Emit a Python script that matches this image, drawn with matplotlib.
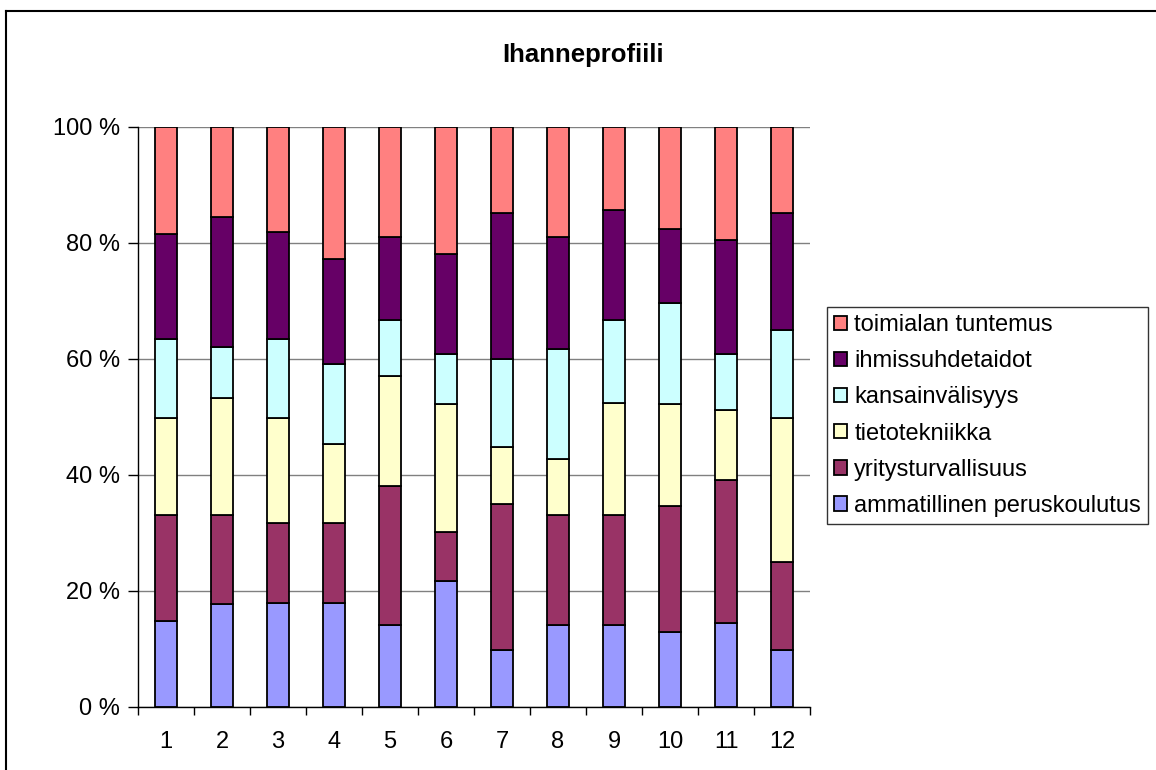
import numpy as np
import matplotlib
matplotlib.use("Agg")
import matplotlib.pyplot as plt
from matplotlib.lines import Line2D
from matplotlib.ticker import FuncFormatter, MultipleLocator

plt.rcParams["font.family"] = ["Liberation Sans", "DejaVu Sans"]

categories = [str(i) for i in range(1, 13)]
ammatillinen = [14.8, 17.7, 17.9, 17.9, 14.1, 21.7, 9.7, 14.1, 14.1, 12.9, 14.4, 9.7]
yritysturvallisuus = [18.2, 15.3, 13.7, 13.7, 23.9, 8.4, 25.2, 19.0, 19.0, 21.6, 24.6, 15.2]
tietotekniikka = [16.7, 20.2, 18.1, 13.7, 19.0, 22.0, 9.9, 9.6, 19.3, 17.6, 12.1, 24.8]
kansainvalisyys = [13.7, 8.8, 13.7, 13.8, 9.6, 8.7, 15.2, 19.0, 14.3, 17.5, 9.7, 15.2]
ihmissuhdetaidot = [18.1, 22.5, 18.4, 18.1, 14.3, 17.3, 25.1, 19.3, 19.0, 12.8, 19.6, 20.2]
toimialan = [18.5, 15.5, 18.2, 22.8, 19.1, 21.9, 14.9, 19.0, 14.3, 17.6, 19.6, 14.9]

series = [
    ("ammatillinen peruskoulutus", ammatillinen, "#9999FF"),
    ("yritysturvallisuus", yritysturvallisuus, "#993366"),
    ("tietotekniikka", tietotekniikka, "#FFFFCC"),
    ("kansainvälisyys", kansainvalisyys, "#CCFFFF"),
    ("ihmissuhdetaidot", ihmissuhdetaidot, "#660066"),
    ("toimialan tuntemus", toimialan, "#FF8080"),
]

W, H = 1156, 770
fig = plt.figure(figsize=(W / 100, H / 100), dpi=100, facecolor="white")
ax = fig.add_axes([138 / W, 1 - 706.5 / H, (810 - 138) / W, (706.5 - 126.7) / H])

# 100 % stacked: normalise each column
vals = np.array([s[1] for s in series], dtype=float)
pct = vals / vals.sum(axis=0) * 100
x = np.arange(len(categories))
bottom = np.zeros(len(categories))
for (name, _, color), row in zip(series, pct):
    ax.bar(x, row, 0.4, bottom=bottom, color=color, edgecolor="black",
           linewidth=1.3, label=name, zorder=3)
    bottom += row

ax.set_xlim(-0.5, len(categories) - 0.5)
ax.set_ylim(0, 100)
ax.yaxis.set_major_locator(MultipleLocator(20))
ax.yaxis.set_major_formatter(FuncFormatter(lambda v, p: f"{v:.0f} %"))
ax.set_xticks(x)
ax.set_xticklabels(categories)
ax.set_xticks(np.arange(-0.5, len(categories)), minor=True)
ax.tick_params(axis="x", which="major", length=0, pad=18, labelsize=17)
ax.tick_params(axis="x", which="minor", length=6, width=1, color="black")
ax.tick_params(axis="y", length=7, width=1, pad=6, labelsize=17)
ax.grid(axis="y", color="#808080", linewidth=1, zorder=0)
for side in ("top", "right"):
    ax.spines[side].set_visible(False)
for side in ("left", "bottom"):
    ax.spines[side].set_linewidth(1)
    ax.spines[side].set_zorder(4)

fig.text(583 / W, 1 - 55 / H, "Ihanneprofiili", ha="center", va="center",
         fontsize=18.5, fontweight="bold")

handles, labels = ax.get_legend_handles_labels()
leg = ax.legend(handles[::-1], labels[::-1], loc="center left",
                bbox_to_anchor=(827 / W, 1 - 415.5 / H), bbox_transform=fig.transFigure,
                borderaxespad=0, fontsize=17, frameon=True, fancybox=False,
                edgecolor="black", handlelength=0.55, handleheight=0.55,
                handletextpad=0.3, labelspacing=0.6, borderpad=0.3)
leg.get_frame().set_linewidth(1)

# outer chart frame (only top and left visible)
fig.add_artist(Line2D([6 / W, 1], [1 - 11 / H, 1 - 11 / H], color="black",
                      linewidth=1.5, transform=fig.transFigure))
fig.add_artist(Line2D([6 / W, 6 / W], [0, 1 - 11 / H], color="black",
                      linewidth=1.5, transform=fig.transFigure))

fig.savefig("out.png", dpi=100, facecolor="white")
